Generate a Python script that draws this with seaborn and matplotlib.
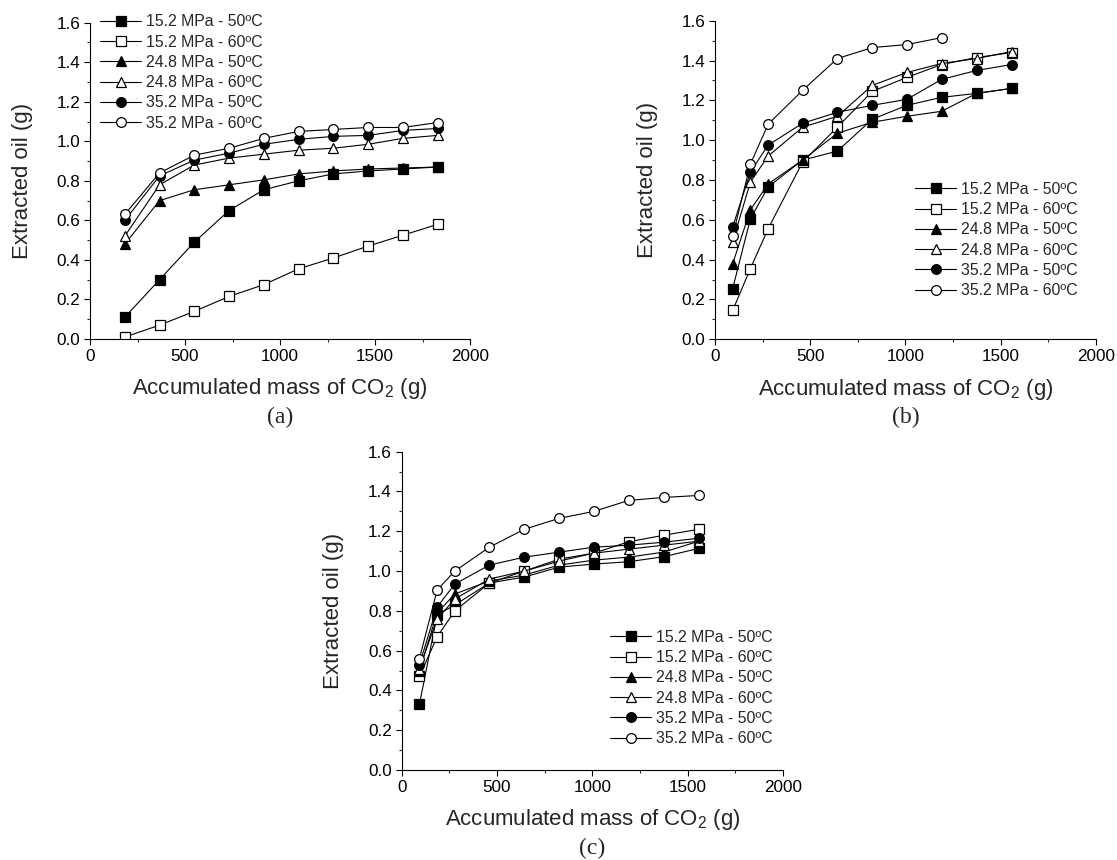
import matplotlib
matplotlib.use("Agg")
import matplotlib.pyplot as plt
import seaborn as sns

sns.set_style("ticks")
plt.rcParams['font.family'] = ['Liberation Sans', 'DejaVu Sans']
plt.rcParams['mathtext.default'] = 'regular'

# series names / markers
labels = ["15.2 MPa - 50ºC", "15.2 MPa - 60ºC", "24.8 MPa - 50ºC",
          "24.8 MPa - 60ºC", "35.2 MPa - 50ºC", "35.2 MPa - 60ºC"]
markers = ['s', 's', '^', '^', 'o', 'o']
faces = ['black', 'white', 'black', 'white', 'black', 'white']

# (a)
x_a = [183, 366, 549, 732, 915, 1098, 1281, 1464, 1647, 1830]
a_152_50 = [0.11, 0.30, 0.49, 0.65, 0.755, 0.80, 0.835, 0.85, 0.86, 0.87]
a_152_60 = [0.01, 0.07, 0.14, 0.215, 0.275, 0.355, 0.41, 0.47, 0.525, 0.58]
a_248_50 = [0.48, 0.70, 0.755, 0.78, 0.805, 0.835, 0.85, 0.86, 0.865, 0.87]
a_248_60 = [0.52, 0.78, 0.88, 0.915, 0.935, 0.955, 0.965, 0.985, 1.015, 1.03]
a_352_50 = [0.60, 0.825, 0.905, 0.94, 0.985, 1.01, 1.025, 1.03, 1.055, 1.065]
a_352_60 = [0.63, 0.84, 0.93, 0.965, 1.015, 1.05, 1.06, 1.07, 1.07, 1.095]

# (b) and (c)
x_bc = [93, 186, 279, 460, 643, 826, 1008, 1190, 1374, 1558]
b_152_50 = [0.255, 0.605, 0.765, 0.90, 0.945, 1.105, 1.175, 1.215, 1.235, 1.26]
b_152_60 = [0.145, 0.355, 0.555, 0.89, 1.065, 1.245, 1.315, 1.38, 1.415, 1.44]
b_248_50 = [0.38, 0.65, 0.78, 0.90, 1.035, 1.09, 1.12, 1.145, 1.235, 1.26]
b_248_60 = [0.49, 0.79, 0.92, 1.065, 1.12, 1.275, 1.34, 1.385, 1.41, 1.445]
b_352_50 = [0.565, 0.84, 0.975, 1.085, 1.14, 1.175, 1.205, 1.305, 1.35, 1.38]
b_352_60 = [0.52, 0.88, 1.08, 1.25, 1.41, 1.465, 1.48, 1.515]

c_152_50 = [0.33, 0.78, 0.83, 0.94, 0.97, 1.02, 1.035, 1.047, 1.072, 1.114]
c_152_60 = [0.47, 0.67, 0.80, 0.94, 1.00, 1.06, 1.09, 1.147, 1.18, 1.21]
c_248_50 = [0.50, 0.79, 0.885, 0.95, 0.98, 1.03, 1.055, 1.07, 1.095, 1.15]
c_248_60 = [0.51, 0.76, 0.86, 0.96, 1.00, 1.05, 1.09, 1.11, 1.13, 1.15]
c_352_50 = [0.53, 0.82, 0.935, 1.03, 1.07, 1.095, 1.12, 1.13, 1.145, 1.165]
c_352_60 = [0.56, 0.905, 1.00, 1.12, 1.21, 1.265, 1.30, 1.355, 1.37, 1.38]

W, H = 1117, 860
fig = plt.figure(figsize=(W / 100, H / 100), dpi=100)


def px_axes(x0, x1, ytop, ybot):
    return fig.add_axes([x0 / W, 1 - ybot / H, (x1 - x0) / W, (ybot - ytop) / H])


def panel(ax, x, series, leg_xy, tag):
    for ys, lab, m, f in zip(series, labels, markers, faces):
        sns.lineplot(x=x[:len(ys)], y=ys, ax=ax, color='black', marker=m,
                     markerfacecolor=f, markeredgecolor='black', markeredgewidth=0.9,
                     markersize=7 if m != 's' else 6.6, linewidth=0.8, label=lab)
    ax.set_xlim(0, 2000)
    ax.set_ylim(0, 1.6)
    ax.set_xticks([0, 500, 1000, 1500, 2000])
    ax.set_xticks([250, 750, 1250, 1750], minor=True)
    ax.set_yticks([0.0, 0.2, 0.4, 0.6, 0.8, 1.0, 1.2, 1.4, 1.6])
    ax.set_yticks([0.1, 0.3, 0.5, 0.7, 0.9, 1.1, 1.3, 1.5], minor=True)
    ax.set_yticklabels([f"{v:.1f}" for v in ax.get_yticks()])
    ax.tick_params(which='major', direction='out', length=4, width=0.8,
                   labelsize=12.3, pad=3, colors='black')
    ax.tick_params(which='minor', direction='out', length=2.5, width=0.8)
    sns.despine(ax=ax)
    for s in ['left', 'bottom']:
        ax.spines[s].set_linewidth(0.8)
        ax.spines[s].set_color('black')
    ax.set_xlabel(r"Accumulated mass of CO$_2$ (g)", fontsize=16, labelpad=9)
    ax.set_ylabel("Extracted oil (g)", fontsize=16, labelpad=17)
    ax.legend(loc='upper left', bbox_to_anchor=(leg_xy[0] / W, 1 - leg_xy[1] / H),
              bbox_transform=fig.transFigure, frameon=False, borderpad=0,
              borderaxespad=0, handlelength=2.6, handletextpad=0.3,
              labelspacing=0.33, fontsize=11.4)
    pos = ax.get_position()
    fig.text(pos.x0 + pos.width / 2, pos.y0 - 78 / H, tag, ha='center', va='center',
             fontsize=17, family=['Liberation Serif', 'DejaVu Serif'])


ax_a = px_axes(90, 470, 22.7, 339)
panel(ax_a, x_a, [a_152_50, a_152_60, a_248_50, a_248_60, a_352_50, a_352_60],
      (100, 14.5), "(a)")

ax_b = px_axes(715, 1095.7, 20.7, 339.3)
panel(ax_b, x_bc, [b_152_50, b_152_60, b_248_50, b_248_60, b_352_50, b_352_60],
      (915, 182), "(b)")

ax_c = px_axes(401.7, 783, 451.7, 770)
panel(ax_c, x_bc, [c_152_50, c_152_60, c_248_50, c_248_60, c_352_50, c_352_60],
      (610, 630), "(c)")

fig.savefig("out.png", dpi=100, facecolor='white')
